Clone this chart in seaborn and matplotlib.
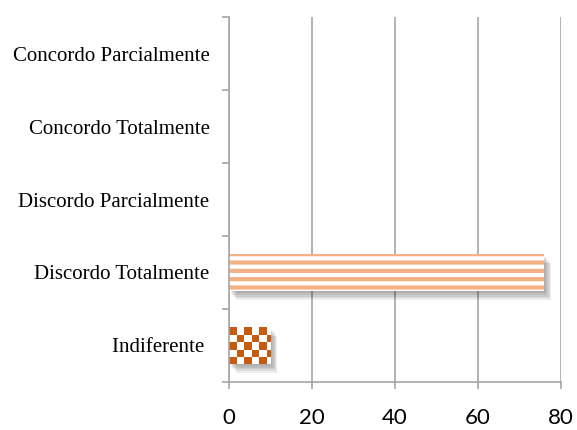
import numpy as np
import pandas as pd
import matplotlib
matplotlib.use("Agg")
import matplotlib.pyplot as plt
import matplotlib.transforms as mtransforms
from matplotlib.patches import Rectangle
from matplotlib.ticker import FixedLocator
import seaborn as sns

# Survey answers (top to bottom) and their percentages
categories = ["Concordo Parcialmente", "Concordo Totalmente", "Discordo Parcialmente",
              "Discordo Totalmente", "Indiferente "]
values = [0, 0, 0, 76, 10]
x_ticks = [0, 20, 40, 60, 80]

df = pd.DataFrame({"resposta": categories, "pct": values})

sns.set_theme(style="white")
plt.rcParams["hatch.linewidth"] = 3.0

fig = plt.figure(figsize=(5.77, 4.30), dpi=100)
ax = fig.add_axes([0.397, 0.112, 0.575, 0.848])

sns.barplot(data=df, y="resposta", x="pct", orient="h", order=categories,
            width=0.5, ax=ax, color="white", linewidth=0, saturation=1)

ax.set_xlim(0, 80)
ax.set_ylim(len(categories) - 0.5, -0.5)

grey = "#A6A6A6"
stripe = "#F4B183"
checker_col = "#C55A11"

# size of one checker cell, in pixels
cell_px = 7.5
ax_w_px = fig.get_figwidth() * fig.dpi * 0.575
ax_h_px = fig.get_figheight() * fig.dpi * 0.848
cell_x = cell_px * 80 / ax_w_px
cell_y = cell_px * len(categories) / ax_h_px


def add_shadow(bar):
    """Soft drop shadow: stacked faint copies shifted down and right."""
    x0, y0 = bar.get_x(), bar.get_y()
    w, h = bar.get_width(), bar.get_height()
    for d in (1.5, 2.5, 3.5, 4.5, 5.5):
        off = mtransforms.ScaledTranslation(d / 72 * 0.9, -d / 72 * 1.2, fig.dpi_scale_trans)
        r = Rectangle((x0, y0), w, h, transform=ax.transData + off,
                      facecolor="black", edgecolor="none", alpha=0.07,
                      zorder=bar.get_zorder() - 0.2)
        ax.add_patch(r)


for bar, cat in list(zip(ax.patches, categories)):
    if bar.get_width() == 0:
        continue
    add_shadow(bar)
    if cat.startswith("Discordo Totalmente"):
        bar.set_facecolor("white")
        bar.set_edgecolor(stripe)
        bar.set_hatch("--")
        bar.set_linewidth(0)
    else:
        bar.set_facecolor(checker_col)
        bar.set_edgecolor("none")
        x0, y0 = bar.get_x(), bar.get_y()
        w, h = bar.get_width(), bar.get_height()
        nx = int(np.ceil(w / cell_x)) + 1
        ny = int(np.ceil(h / cell_y)) + 1
        yy, xx = np.mgrid[0:ny, 0:nx]
        img = np.ones((ny, nx, 3))
        img[(xx + yy) % 2 == 0] = matplotlib.colors.to_rgb(checker_col)
        im = ax.imshow(img, extent=[x0, x0 + nx * cell_x, y0 + ny * cell_y, y0],
                       aspect="auto", interpolation="nearest",
                       zorder=bar.get_zorder() + 0.1)
        im.set_clip_path(bar)

ax.set_xlim(0, 80)
ax.set_ylim(len(categories) - 0.5, -0.5)
ax.set_xticks(x_ticks)
ax.set_xticklabels([str(t) for t in x_ticks], fontfamily="Lato", fontsize=16, color="black")
ax.set_yticks(range(len(categories)))
ax.set_yticklabels(categories, fontfamily="Liberation Serif", fontsize=15, color="black")
ax.yaxis.set_minor_locator(FixedLocator(np.arange(-0.5, len(categories), 1.0)))
ax.tick_params(axis="y", which="major", length=0, pad=14)
ax.tick_params(axis="y", which="minor", length=5, color=grey, width=1.2, left=True)
ax.tick_params(axis="x", which="major", length=5, color=grey, width=1.2, bottom=True, pad=14)

ax.set_xlabel("")
ax.set_ylabel("")
ax.grid(axis="x", color=grey, linewidth=1.2)
ax.set_axisbelow(True)
for s in ["top", "right"]:
    ax.spines[s].set_visible(False)
for s in ["left", "bottom"]:
    ax.spines[s].set_color(grey)
    ax.spines[s].set_linewidth(1.2)

fig.savefig("out.png", dpi=100, facecolor="white")
